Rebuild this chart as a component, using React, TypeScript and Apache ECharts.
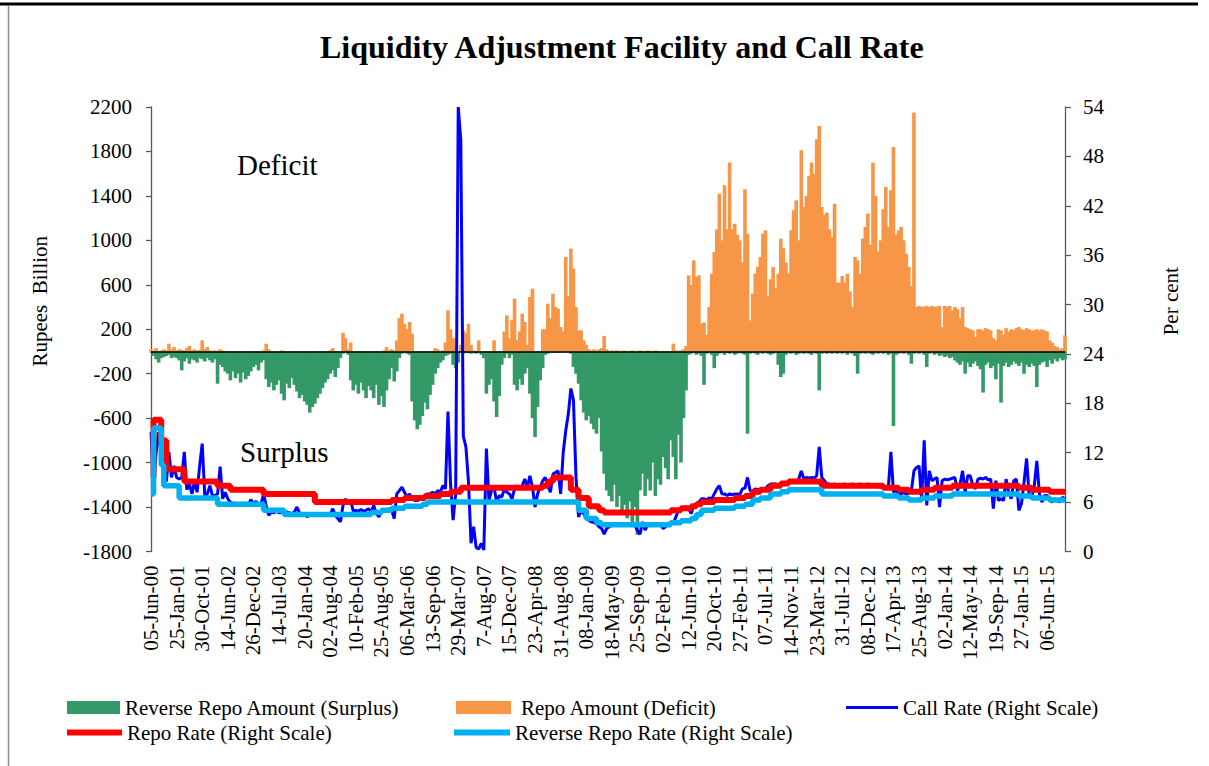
import React, { useEffect, useRef } from 'react';
import * as echarts from 'echarts';

const FONT = '"Liberation Serif", "Times New Roman", serif';

// x-axis tick labels (one every 10 observation points)
const tickLabels = [
  '05-Jun-00', '25-Jan-01', '30-Oct-01', '14-Jun-02', '26-Dec-02', '14-Jul-03', '20-Jan-04',
  '02-Aug-04', '10-Feb-05', '25-Aug-05', '06-Mar-06', '13-Sep-06', '29-Mar-07', '7-Aug-07',
  '15-Dec-07', '23-Apr-08', '31-Aug-08', '08-Jan-09', '18-May-09', '25-Sep-09', '02-Feb-10',
  '12-Jun-10', '20-Oct-10', '27-Feb-11', '07-Jul-11', '14-Nov-11', '23-Mar-12', '31-Jul-12',
  '08-Dec-12', '17-Apr-13', '25-Aug-13', '02-Jan-14', '12-May-14', '19-Sep-14', '27-Jan-15',
  '06-Jun-15',
];

// Reverse Repo Amount (Surplus), Rupees Billion
const surplusAmount = [
  -10, -40, -70, -100, -60, -50, -40, -30, -60, -50,
  -60, -80, -170, -90, -60, -110, -70, -80, -100, -60,
  -70, -90, -60, -80, -100, -70, -290, -120, -140, -180,
  -200, -260, -180, -240, -200, -280, -190, -250, -220, -180,
  -140, -120, -170, -100, -80, -250, -320, -280, -350, -300,
  -260, -380, -440, -290, -330, -240, -300, -360, -420, -390,
  -450, -480, -550, -500, -470, -420, -380, -330, -280, -250,
  -200, -170, -230, -150, -60, -20, -10, -30, -260, -350,
  -300, -380, -280, -350, -420, -310, -350, -420, -300, -480,
  -400, -500, -350, -250, -150, -270, -180, -60, -20, -10,
  -20, -30, -450, -620, -700, -660, -580, -460, -520, -390,
  -300, -200, -150, -100, -80, -40, -30, -20, -120, -150,
  -100, -10, -20, -10, -15, -20, -10, -20, -10, -30,
  -60, -380, -300, -250, -450, -590, -400, -120, -60, -20,
  -60, -30, -300, -350, -250, -300, -200, -150, -380, -600,
  -770, -500, -260, -150, -30, -20, -10, -10, -10, -10,
  -10, -10, 0, -10, -20, -140, -200, -290, -440, -550,
  -620, -580, -650, -700, -740, -600, -900, -1100, -1250, -1300,
  -1350, -1200, -1400, -1300, -1430, -1380, -1500, -1350, -1550, -1400,
  -1650, -1250, -1100, -1300, -1150, -1250, -1000, -1300, -1150, -1200,
  -950, -1050, -1150, -800, -950, -1150, -750, -1000, -600, -350,
  -30, -20, -10, -30, -20, -40, -300, -20, -10, -30,
  -150, -40, -20, -10, -30, -10, -20, -10, -30, -20,
  -10, -20, -30, -740, -20, -10, -20, -30, -10, -20,
  -10, -20, -30, -20, -10, -120, -230, -200, -30, -10,
  -20, -10, -30, -20, -10, -20, -10, -20, -30, -10,
  -20, -350, -20, -10, -20, -10, -20, -10, -20, -10,
  -20, -10, -30, -10, -20, -40, -200, -20, -10, -20,
  -10, -20, -30, -10, -20, -10, -20, -10, -30, -20,
  -670, -30, -20, -10, -20, -10, -30, -110, -20, -10,
  -20, -10, -30, -140, -20, -10, -30, -20, -40, -30,
  -50, -40, -60, -50, -80, -100, -120, -90, -200, -100,
  -140, -110, -90, -130, -160, -370, -120, -100, -150, -130,
  -250, -110, -460, -130, -100, -140, -120, -90, -110, -130,
  -100, -200, -120, -140, -110, -130, -320, -120, -100, -90,
  -140, -80, -110, -70, -90, -60, -80, -70,
];

// Repo Amount (Deficit), Rupees Billion
const deficitAmount = [
  20, 10, 30, 5, 10, 20, 10, 70, 20, 40,
  10, 20, 15, 10, 30, 50, 10, 20, 10, 15,
  100, 20, 40, 10, 5, 10, 5, 20, 10, 5,
  5, 0, 5, 0, 0, 0, 0, 0, 0, 0,
  0, 0, 0, 0, 10, 70, 20, 0, 0, 0,
  0, 10, 0, 0, 0, 0, 0, 0, 0, 0,
  0, 0, 0, 0, 0, 0, 0, 0, 0, 0,
  10, 30, 0, 0, 0, 170, 120, 20, 80, 0,
  0, 0, 0, 0, 0, 0, 0, 0, 0, 0,
  0, 10, 40, 10, 20, 10, 100, 300, 340, 250,
  200, 265, 160, 0, 0, 0, 0, 0, 0, 0,
  0, 30, 20, 0, 10, 80, 370, 200, 120, 60,
  0, 60, 190, 170, 250, 60, 10, 0, 100, 0,
  0, 0, 0, 0, 100, 0, 0, 0, 180, 325,
  120, 280, 475, 100, 180, 340, 265, 60, 490, 565,
  0, 0, 0, 200, 200, 430, 300, 520, 400, 385,
  220, 180, 850, 500, 925, 745, 400, 190, 190, 100,
  60, 20, 10, 20, 10, 20, 30, 140, 20, 0,
  10, 5, 10, 0, 5, 10, 0, 5, 10, 0,
  5, 10, 0, 5, 10, 5, 0, 10, 5, 0,
  5, 0, 5, 0, 70, 10, 0, 10, 20, 50,
  685, 600, 820, 670, 685, 250, 260, 150, 400, 700,
  895, 1100, 1420, 1000, 1495, 1100, 1700, 1100, 1150, 1050,
  1000, 800, 1460, 1060, 280, 520, 700, 760, 850, 1060,
  1090, 500, 650, 760, 570, 700, 1015, 930, 800, 700,
  1090, 1270, 1360, 1000, 1810, 1300, 1400, 1580, 1700, 1600,
  1910, 2030, 1300, 1230, 1250, 1100, 1030, 1330, 620, 620,
  680, 620, 700, 540, 400, 850, 820, 700, 1015, 1120,
  1240, 960, 1700, 1400, 900, 1000, 1280, 1480, 1120, 1450,
  1840, 1050, 1090, 1120, 1000, 880, 760, 590, 2150, 400,
  410, 400, 405, 410, 400, 410, 400, 405, 410, 220,
  410, 400, 410, 370, 400, 380, 300, 400, 220, 210,
  200, 190, 130, 200, 200, 190, 210, 200, 190, 120,
  100, 200, 190, 150, 210, 180, 200, 190, 210, 220,
  200, 190, 210, 200, 190, 190, 200, 190, 200, 190,
  180, 100, 80, 50, 40, 20, 30, 145,
];

// Call Rate, per cent
const callRate = [
  14.5, 8.0, 12, 14.5, 12, 9.5, 8.5, 12.1, 9.0, 10.4,
  9.0, 8.8, 9.0, 12.1, 7.5, 8.2, 7.0, 8.5, 7.2, 10.4,
  13.1, 6.8, 7.0, 8.0, 6.8, 6.8, 7.0, 10.3, 6.4, 7.2,
  6.4, 6.0, 5.8, 5.9, 5.7, 5.8, 5.6, 5.9, 5.7, 6.3,
  5.8, 6.1, 5.6, 5.8, 7.0, 5.5, 4.4, 4.8, 4.7, 4.9,
  4.7, 4.8, 4.6, 4.8, 4.7, 4.6, 4.8, 5.4, 4.7, 4.5,
  4.6, 4.2, 4.5, 4.6, 4.5, 4.6, 4.4, 4.6, 4.5, 4.6,
  4.5, 5.2, 4.4, 4.0, 3.6, 5.6, 6.4, 5.8, 6.2, 4.9,
  5.0, 4.9, 5.1, 4.9, 5.0, 5.2, 4.8, 5.6, 4.6, 4.2,
  5.0, 5.0, 4.9, 5.2, 5.0, 4.0, 7.0, 7.4, 7.8, 7.2,
  6.6, 7.0, 6.4, 6.2, 6.2, 6.3, 6.5, 6.8, 7.0, 7.0,
  7.2, 7.0, 7.4, 7.2, 8.0, 7.6, 17.0, 8.2, 3.8, 7.0,
  54.0, 50.0, 14.0, 12.7, 8.5, 1.0, 3.0, 0.5, 0.3, 1.0,
  0.2, 12.5, 6.2, 7.4, 7.8, 6.0, 6.8, 6.6, 7.6, 7.2,
  7.0, 6.4, 7.6, 8.0, 7.6, 8.0, 8.8, 7.8, 9.2, 7.8,
  5.4, 7.0, 7.8, 8.6, 9.0, 8.0, 7.2, 9.4, 9.6, 9.8,
  7.0, 12.0, 14.7, 16.7, 19.8, 18.4, 9.0, 4.2, 5.0, 4.6,
  4.0, 3.8, 3.6, 3.5, 3.4, 3.0, 2.8, 2.1, 2.8, 3.0,
  3.2, 3.3, 3.4, 3.2, 3.3, 3.2, 3.4, 3.2, 3.3, 3.2,
  2.5, 2.1, 3.6, 2.6, 3.2, 3.3, 3.2, 3.4, 3.2, 3.3,
  2.8, 3.0, 3.4, 3.5, 3.4, 4.2, 5.0, 5.2, 5.3, 5.4,
  5.2, 4.6, 5.6, 5.8, 6.0, 6.4, 6.4, 6.3, 6.5, 6.4,
  7.0, 7.6, 8.0, 7.0, 7.0, 6.8, 7.0, 6.9, 7.0, 7.0,
  6.9, 7.6, 7.7, 9.0, 7.4, 7.3, 7.6, 7.5, 7.6, 7.5,
  7.6, 8.0, 8.2, 8.2, 8.2, 8.1, 8.3, 8.2, 8.3, 8.4,
  8.6, 8.6, 8.6, 8.8, 9.8, 8.8, 9.0, 8.9, 9.0, 8.9,
  9.2, 12.7, 9.0, 8.6, 8.2, 8.2, 8.1, 8.2, 8.0, 8.1,
  8.1, 8.2, 8.0, 8.1, 8.2, 8.1, 8.0, 8.2, 8.1, 8.0,
  8.2, 8.1, 8.0, 8.1, 7.9, 7.8, 7.7, 7.6, 7.8, 12.1,
  7.2, 7.4, 7.1, 7.0, 7.2, 7.0, 7.1, 7.4, 9.8, 10.2,
  10.4, 6.2, 13.5, 5.6, 9.8, 8.6, 8.8, 9.0, 5.4, 8.6,
  8.8, 8.7, 8.8, 8.9, 9.0, 7.4, 8.2, 9.8, 7.2, 9.2,
  9.2, 8.0, 7.6, 8.8, 8.9, 8.8, 9.0, 8.7, 8.8, 5.2,
  8.6, 6.2, 6.4, 6.2, 8.8, 7.2, 6.4, 8.6, 8.8, 5.0,
  5.8, 8.4, 11.3, 6.8, 6.6, 8.0, 11.0, 7.0, 6.0, 6.8,
  6.8, 6.2, 6.0, 6.4, 6.2, 6.0, 6.6, 6.4,
];

// Policy rates: [observation index where the rate takes effect, rate in per cent]
const repoRate = [
  [0, 9.0], [1, 16.0], [4, 13.5], [6, 10.0], [13, 8.5], [26, 8.0], [31, 7.5], [44, 7.0],
  [64, 6.0], [94, 6.25], [99, 6.5], [107, 6.75], [113, 7.0], [117, 7.25], [121, 7.75],
  [153, 8.0], [155, 8.5], [157, 9.0], [164, 7.5], [167, 6.5], [171, 5.5], [175, 5.0],
  [177, 4.75], [203, 5.0], [207, 5.25], [211, 5.5], [213, 5.75], [215, 6.0], [220, 6.25],
  [228, 6.5], [232, 6.75], [235, 7.25], [238, 7.5], [242, 8.0], [246, 8.25], [249, 8.5],
  [262, 8.0], [286, 7.75], [292, 7.5], [296, 7.25], [301, 7.5], [306, 7.75], [313, 8.0],
  [339, 7.75], [344, 7.5], [351, 7.25], [357, 7.25],
];

const reverseRepoRate = [
  [0, 7.0], [1, 15.0], [4, 10.5], [5, 8.0], [11, 6.5], [26, 5.75], [44, 5.0], [52, 4.5],
  [86, 4.75], [90, 5.0], [94, 5.25], [99, 5.5], [106, 5.75], [108, 6.0], [167, 5.0],
  [170, 4.0], [174, 3.5], [176, 3.25], [203, 3.5], [207, 3.75], [211, 4.0], [213, 4.5],
  [215, 5.0], [220, 5.25], [228, 5.5], [232, 5.75], [235, 6.25], [238, 6.5], [242, 7.0],
  [246, 7.25], [249, 7.5], [262, 7.0], [286, 6.75], [292, 6.5], [296, 6.25], [301, 6.5],
  [306, 6.75], [313, 7.0], [339, 6.75], [344, 6.5], [351, 6.25], [357, 6.25],
];

const GREEN = '#339966';
const ORANGE = '#F79646';
const BLUE = '#0000FF';
const RED = '#FF0000';
const LIGHTBLUE = '#00B0F0';
const AXIS = '#595959';

export default function App() {
  const ref = useRef<HTMLDivElement>(null);

  useEffect(() => {
    if (!ref.current) return;
    const chart = echarts.init(ref.current, null, { renderer: 'svg' });

    const categories = callRate.map((_, i) => {
      const base = tickLabels[Math.floor(i / 10)];
      return i % 10 === 0 ? base : `${base} +${i % 10}`;
    });

    const labelStyle = { fontFamily: FONT, fontSize: 21, color: '#000' };

    const legendBase = (name: string, left: number, top: number, w: number, h: number, extra: any = {}) => ({
      data: [name],
      left,
      top,
      padding: 0,
      itemWidth: w,
      itemHeight: h,
      icon: 'rect',
      selectedMode: false,
      itemStyle: { borderWidth: 0 },
      textStyle: { fontFamily: FONT, fontSize: 21, color: '#000', ...extra },
    });

    const option: any = {
      animation: false,
      backgroundColor: '#fff',
      title: {
        text: 'Liquidity Adjustment Facility and Call Rate',
        left: 320,
        top: 31,
        padding: 0,
        textStyle: { fontFamily: FONT, fontSize: 32, fontWeight: 'bold', color: '#000' },
      },
      grid: { left: 151, right: 144, top: 107, bottom: 214.5, containLabel: false },
      legend: [
        legendBase('Reverse Repo Amount (Surplus)', 67, 697, 53, 13),
        legendBase('Repo Amount (Deficit)', 456, 697, 55, 13, { padding: [0, 0, 0, 5] }),
        legendBase('Call Rate (Right Scale)', 846, 697, 52, 3),
        legendBase('Repo Rate (Right Scale)', 67, 722, 55, 6),
        legendBase('Reverse Repo Rate (Right Scale)', 454, 722, 56, 6),
      ],
      xAxis: {
        type: 'category',
        data: categories,
        boundaryGap: false,
        axisLine: { show: false },
        axisTick: { show: false },
        splitLine: { show: false },
        axisLabel: {
          ...labelStyle,
          interval: 9,
          rotate: 90,
          margin: 14,
          formatter: (v: string) => v.split(' ')[0],
        },
      },
      yAxis: [
        {
          type: 'value',
          min: -1800,
          max: 2200,
          show: false,
          splitLine: { show: false },
        },
        {
          type: 'value',
          position: 'right',
          min: 0,
          max: 54,
          interval: 6,
          name: 'Per cent',
          nameLocation: 'middle',
          nameRotate: 90,
          nameGap: 95,
          nameTextStyle: { fontFamily: FONT, fontSize: 21, color: '#000', padding: [0, 0, 0, 56] },
          axisLine: { show: true, lineStyle: { color: AXIS, width: 1.3 } },
          axisTick: { show: true, inside: false, length: 6, lineStyle: { color: AXIS, width: 1.3 } },
          axisLabel: { ...labelStyle, margin: 18 },
          splitLine: { show: false },
        },
        {
          // display axis for the left scale (-1800 .. 2200 in steps of 400)
          type: 'value',
          position: 'left',
          min: 0,
          max: 4000,
          interval: 400,
          name: 'Rupees  Billion',
          nameLocation: 'middle',
          nameRotate: 90,
          nameGap: 101,
          nameTextStyle: { fontFamily: FONT, fontSize: 21, color: '#000', padding: [0, 0, 0, 56] },
          axisLine: { show: true, lineStyle: { color: AXIS, width: 1.3 } },
          axisTick: { show: true, inside: false, length: 5, lineStyle: { color: AXIS, width: 1.3 } },
          axisLabel: { ...labelStyle, margin: 19, formatter: (v: number) => String(v - 1800) },
          splitLine: { show: false },
        },
      ],
      series: [
        {
          name: 'Reverse Repo Amount (Surplus)',
          type: 'bar',
          stack: 'laf',
          yAxisIndex: 0,
          data: surplusAmount,
          barWidth: 3.6,
          color: GREEN,
          itemStyle: { color: GREEN },
        },
        {
          name: 'Repo Amount (Deficit)',
          type: 'bar',
          stack: 'laf',
          yAxisIndex: 0,
          data: deficitAmount,
          barWidth: 3.6,
          color: ORANGE,
          itemStyle: { color: ORANGE },
          markLine: {
            silent: true,
            symbol: ['none', 'none'],
            label: { show: false },
            lineStyle: { color: '#000', width: 1.5, type: 'solid' },
            data: [{ yAxis: 0 }],
          },
        },
        {
          name: 'Call Rate (Right Scale)',
          type: 'line',
          yAxisIndex: 1,
          data: callRate,
          symbol: 'none',
          color: BLUE,
          itemStyle: { color: BLUE },
          lineStyle: { color: BLUE, width: 3 },
        },
        {
          name: 'Repo Rate (Right Scale)',
          type: 'line',
          yAxisIndex: 1,
          data: repoRate,
          step: 'end',
          symbol: 'none',
          color: RED,
          itemStyle: { color: RED },
          lineStyle: { color: RED, width: 6 },
        },
        {
          name: 'Reverse Repo Rate (Right Scale)',
          type: 'line',
          yAxisIndex: 1,
          data: reverseRepoRate,
          step: 'end',
          symbol: 'none',
          color: LIGHTBLUE,
          itemStyle: { color: LIGHTBLUE },
          lineStyle: { color: LIGHTBLUE, width: 5.5 },
        },
      ],
      graphic: [
        { type: 'line', shape: { x1: 0, y1: 4, x2: 1198, y2: 4 }, style: { stroke: '#000', lineWidth: 3 }, silent: true },
        { type: 'line', shape: { x1: 8.5, y1: 6, x2: 8.5, y2: 766 }, style: { stroke: '#8c8c8c', lineWidth: 1.5 }, silent: true },
        {
          type: 'text',
          x: 237,
          y: 165,
          silent: true,
          style: { text: 'Deficit', fontFamily: FONT, fontSize: 29, fill: '#000', align: 'left', verticalAlign: 'middle' },
        },
        {
          type: 'text',
          x: 240,
          y: 452,
          silent: true,
          style: { text: 'Surplus', fontFamily: FONT, fontSize: 29, fill: '#000', align: 'left', verticalAlign: 'middle' },
        },
      ],
    };

    chart.setOption(option);
    return () => chart.dispose();
  }, []);

  return (
    <div
      ref={ref}
      style={{ position: 'absolute', left: 0, top: 0, width: 1209, height: 766, background: '#fff' }}
    />
  );
}
